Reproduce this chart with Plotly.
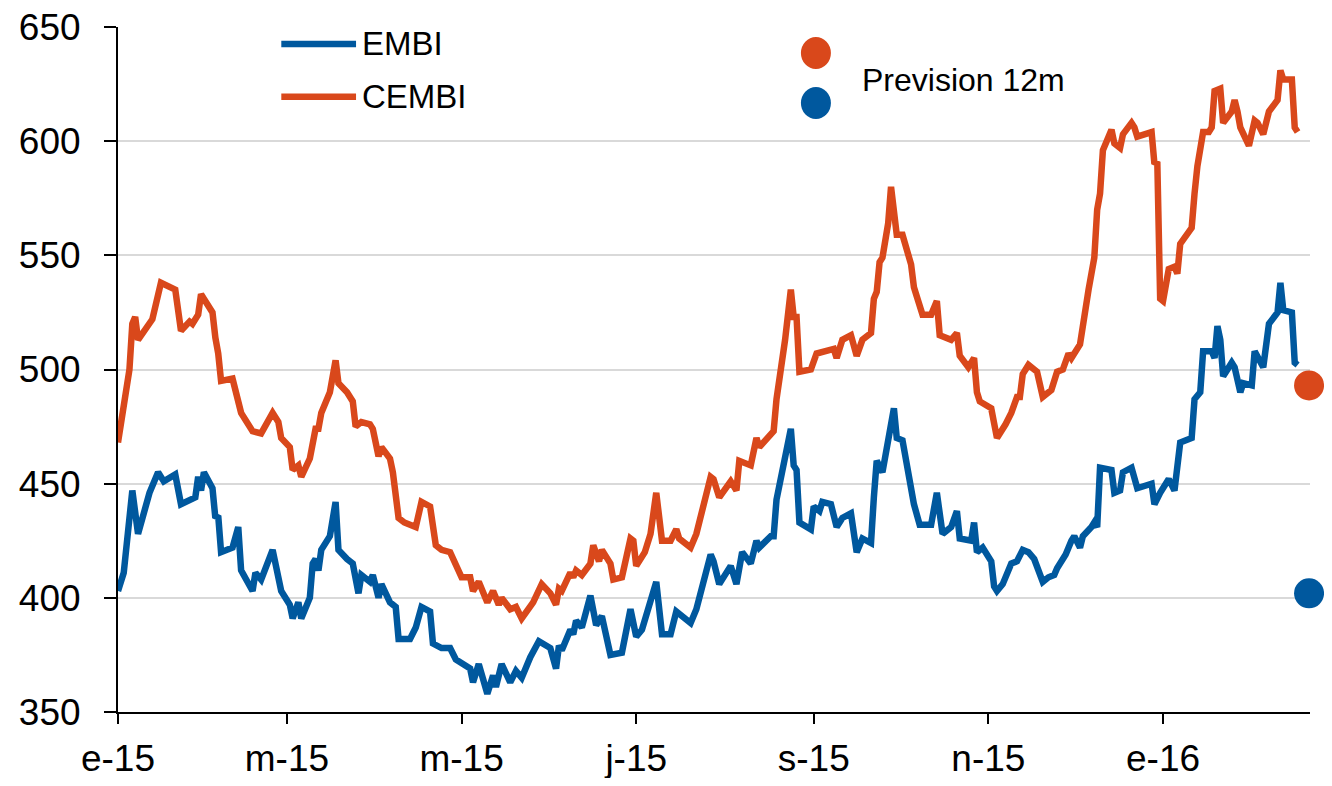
import plotly.graph_objects as go

# EMBI spread (blue)
embi_dates = [
    "2015-01-01", "2015-01-03", "2015-01-06", "2015-01-08", "2015-01-10", "2015-01-12",
    "2015-01-15", "2015-01-17", "2015-01-21", "2015-01-23", "2015-01-28", "2015-01-29",
    "2015-01-30", "2015-01-31", "2015-02-03", "2015-02-04", "2015-02-05", "2015-02-06",
    "2015-02-10", "2015-02-12", "2015-02-13", "2015-02-17", "2015-02-18", "2015-02-20",
    "2015-02-24", "2015-02-27", "2015-03-02", "2015-03-03", "2015-03-05", "2015-03-06",
    "2015-03-09", "2015-03-10", "2015-03-11", "2015-03-12", "2015-03-13", "2015-03-16",
    "2015-03-18", "2015-03-19", "2015-03-22", "2015-03-24", "2015-03-26", "2015-03-27",
    "2015-03-30", "2015-03-31", "2015-04-02", "2015-04-03", "2015-04-06", "2015-04-08",
    "2015-04-09", "2015-04-13", "2015-04-15", "2015-04-17", "2015-04-20", "2015-04-21",
    "2015-04-24", "2015-04-27", "2015-04-29", "2015-05-04", "2015-05-05", "2015-05-07",
    "2015-05-10", "2015-05-12", "2015-05-13", "2015-05-15", "2015-05-18", "2015-05-20",
    "2015-05-22", "2015-05-25", "2015-05-28", "2015-06-01", "2015-06-03", "2015-06-04",
    "2015-06-05", "2015-06-08", "2015-06-09", "2015-06-10", "2015-06-12", "2015-06-15",
    "2015-06-17", "2015-06-19", "2015-06-22", "2015-06-26", "2015-06-29", "2015-07-01",
    "2015-07-03", "2015-07-08", "2015-07-10", "2015-07-13", "2015-07-15", "2015-07-20",
    "2015-07-22", "2015-07-24", "2015-07-27", "2015-07-28", "2015-07-30", "2015-08-03",
    "2015-08-05", "2015-08-07", "2015-08-10", "2015-08-12", "2015-08-13", "2015-08-17",
    "2015-08-18", "2015-08-19", "2015-08-21", "2015-08-24", "2015-08-25", "2015-08-26",
    "2015-08-27", "2015-08-31", "2015-09-01", "2015-09-03", "2015-09-04", "2015-09-07",
    "2015-09-09", "2015-09-11", "2015-09-14", "2015-09-16", "2015-09-18", "2015-09-21",
    "2015-09-22", "2015-09-23", "2015-09-25", "2015-09-29", "2015-09-30", "2015-10-02",
    "2015-10-06", "2015-10-08", "2015-10-12", "2015-10-14", "2015-10-16", "2015-10-19",
    "2015-10-21", "2015-10-22", "2015-10-26", "2015-10-27", "2015-10-28", "2015-10-30",
    "2015-11-02", "2015-11-03", "2015-11-04", "2015-11-06", "2015-11-09", "2015-11-11",
    "2015-11-13", "2015-11-15", "2015-11-17", "2015-11-20", "2015-11-22", "2015-11-24",
    "2015-11-25", "2015-11-28", "2015-11-30", "2015-12-01", "2015-12-03", "2015-12-04",
    "2015-12-07", "2015-12-08", "2015-12-09", "2015-12-10", "2015-12-14", "2015-12-15",
    "2015-12-17", "2015-12-18", "2015-12-21", "2015-12-23", "2015-12-28", "2015-12-29",
    "2015-12-31", "2016-01-03", "2016-01-05", "2016-01-07", "2016-01-11", "2016-01-12",
    "2016-01-14", "2016-01-15", "2016-01-18", "2016-01-19", "2016-01-20", "2016-01-21",
    "2016-01-22", "2016-01-25", "2016-01-26", "2016-01-28", "2016-01-29", "2016-02-01",
    "2016-02-02", "2016-02-05", "2016-02-07", "2016-02-10", "2016-02-11", "2016-02-12",
    "2016-02-15", "2016-02-16", "2016-02-17",
]
embi_values = [
    403, 411, 447, 428, 437, 446,
    455, 451, 454, 441, 444, 453,
    447, 455, 448, 435, 436, 420,
    422, 431, 412, 403, 411, 408,
    421, 403, 397, 391, 398, 391,
    400, 415, 417, 412, 421, 427,
    442, 421, 417, 415, 402, 410,
    407, 410, 400, 406, 398, 396,
    382, 382, 387, 396, 394, 380,
    378, 378, 373, 369, 363, 371,
    358, 366, 361, 371, 363, 368,
    365, 374, 381, 378, 369, 379,
    377, 386, 384, 390, 387, 401,
    388, 392, 375, 376, 395, 383,
    386, 407, 384, 384, 394, 389,
    395, 404, 419, 416, 406, 414,
    406, 420, 415, 425, 422, 427,
    427, 443, 455, 474, 458, 456,
    433, 430, 440, 438, 442, 441,
    431, 435, 437, 420, 426, 424,
    444, 460, 455, 483, 470, 469,
    441, 432, 432, 446, 428, 431,
    438, 426, 425, 433, 420, 422,
    416, 405, 403, 406, 415, 416,
    421, 420, 417, 407, 409, 410,
    413, 419, 425, 427, 422, 427,
    431, 433, 431, 457, 456, 446,
    447, 455, 457, 448, 450, 441,
    446, 452, 447, 468, 470, 487,
    490, 508, 508, 505, 519, 513,
    497, 503, 501, 490, 494, 493,
    508, 501, 520, 525, 538, 526,
    525, 503, 502,
]

# CEMBI spread (orange)
cembi_dates = [
    "2015-01-01", "2015-01-05", "2015-01-06", "2015-01-07", "2015-01-08", "2015-01-13",
    "2015-01-16", "2015-01-21", "2015-01-23", "2015-01-26", "2015-01-27", "2015-01-29",
    "2015-01-30", "2015-02-03", "2015-02-04", "2015-02-05", "2015-02-06", "2015-02-10",
    "2015-02-13", "2015-02-17", "2015-02-20", "2015-02-24", "2015-02-26", "2015-02-27",
    "2015-03-02", "2015-03-03", "2015-03-05", "2015-03-06", "2015-03-09", "2015-03-10",
    "2015-03-11", "2015-03-12", "2015-03-13", "2015-03-16", "2015-03-18", "2015-03-19",
    "2015-03-22", "2015-03-24", "2015-03-25", "2015-03-27", "2015-03-30", "2015-03-31",
    "2015-04-02", "2015-04-03", "2015-04-06", "2015-04-07", "2015-04-09", "2015-04-11",
    "2015-04-15", "2015-04-17", "2015-04-20", "2015-04-22", "2015-04-24", "2015-04-27",
    "2015-04-29", "2015-05-01", "2015-05-04", "2015-05-05", "2015-05-07", "2015-05-10",
    "2015-05-12", "2015-05-14", "2015-05-15", "2015-05-18", "2015-05-20", "2015-05-22",
    "2015-05-26", "2015-05-29", "2015-06-01", "2015-06-03", "2015-06-04", "2015-06-05",
    "2015-06-08", "2015-06-09", "2015-06-10", "2015-06-12", "2015-06-15", "2015-06-16",
    "2015-06-18", "2015-06-19", "2015-06-22", "2015-06-23", "2015-06-26", "2015-06-29",
    "2015-06-30", "2015-07-01", "2015-07-04", "2015-07-06", "2015-07-08", "2015-07-10",
    "2015-07-13", "2015-07-15", "2015-07-16", "2015-07-20", "2015-07-22", "2015-07-24",
    "2015-07-27", "2015-07-28", "2015-07-30", "2015-08-03", "2015-08-05", "2015-08-06",
    "2015-08-10", "2015-08-12", "2015-08-13", "2015-08-18", "2015-08-19", "2015-08-22",
    "2015-08-24", "2015-08-25", "2015-08-26", "2015-08-27", "2015-08-31", "2015-09-02",
    "2015-09-08", "2015-09-09", "2015-09-11", "2015-09-14", "2015-09-16", "2015-09-18",
    "2015-09-21", "2015-09-22", "2015-09-23", "2015-09-24", "2015-09-25", "2015-09-27",
    "2015-09-28", "2015-09-30", "2015-10-02", "2015-10-05", "2015-10-06", "2015-10-07",
    "2015-10-09", "2015-10-12", "2015-10-14", "2015-10-15", "2015-10-19", "2015-10-21",
    "2015-10-22", "2015-10-25", "2015-10-27", "2015-10-28", "2015-10-29", "2015-11-02",
    "2015-11-04", "2015-11-07", "2015-11-09", "2015-11-11", "2015-11-12", "2015-11-13",
    "2015-11-15", "2015-11-18", "2015-11-20", "2015-11-23", "2015-11-25", "2015-11-27",
    "2015-11-29", "2015-11-30", "2015-12-02", "2015-12-03", "2015-12-06", "2015-12-08",
    "2015-12-09", "2015-12-10", "2015-12-11", "2015-12-14", "2015-12-15", "2015-12-17",
    "2015-12-18", "2015-12-21", "2015-12-22", "2015-12-23", "2015-12-28", "2015-12-29",
    "2015-12-30", "2015-12-31", "2016-01-01", "2016-01-03", "2016-01-05", "2016-01-06",
    "2016-01-07", "2016-01-08", "2016-01-11", "2016-01-12", "2016-01-13", "2016-01-15",
    "2016-01-17", "2016-01-18", "2016-01-19", "2016-01-21", "2016-01-22", "2016-01-25",
    "2016-01-26", "2016-01-27", "2016-01-28", "2016-01-31", "2016-02-02", "2016-02-03",
    "2016-02-05", "2016-02-07", "2016-02-10", "2016-02-11", "2016-02-12", "2016-02-15",
    "2016-02-16", "2016-02-17",
]
cembi_values = [
    468, 500, 520, 523, 513, 522,
    538, 535, 517, 521, 520, 524,
    533, 525, 514, 507, 495, 496,
    481, 473, 472, 481, 477, 470,
    466, 456, 458, 453, 461, 470,
    474, 474, 481, 490, 504, 494,
    490, 486, 475, 477, 476, 474,
    462, 466, 461, 455, 435, 433,
    431, 442, 440, 423, 421, 420,
    415, 409, 409, 403, 407, 398,
    403, 397, 400, 395, 396, 391,
    398, 406, 402, 397, 404, 403,
    411, 409, 412, 410, 415, 423,
    416, 421, 415, 408, 409, 426,
    425, 414, 420, 428, 446, 425,
    425, 430, 426, 422, 428, 439,
    453, 452, 444, 451, 447, 460,
    458, 470, 466, 473, 487, 513,
    535, 523, 523, 499, 500, 507,
    509, 505, 513, 515, 506, 513,
    516, 531, 534, 547, 549, 564,
    580, 559, 559, 546, 536, 532,
    524, 524, 530, 515, 513, 516,
    506, 501, 505, 490, 486, 483,
    470, 476, 481, 488, 488, 498,
    502, 499, 488, 491, 499, 500,
    507, 505, 510, 511, 535, 549,
    570, 577, 596, 605, 599, 597,
    603, 608, 606, 602, 604, 590,
    591, 531, 530, 544, 545, 542,
    555, 557, 562, 577, 589, 604,
    604, 606, 622, 623, 608, 613,
    618, 613, 606, 598, 609, 608,
    603, 613, 618, 631, 627, 627,
    606, 604,
]

# 12-month forecast
forecast_date = ["2016-02-21"]
embi_forecast = [402]
cembi_forecast = [493]

tick_dates = ["2015-01-01", "2015-03-01", "2015-05-01", "2015-07-01",
              "2015-09-01", "2015-11-01", "2016-01-01"]
tick_labels = ["e-15", "m-15", "m-15", "j-15", "s-15", "n-15", "e-16"]

BLUE = "#00589E"
ORANGE = "#D9481B"
FONT = "Liberation Sans, Arial, sans-serif"

fig = go.Figure()

fig.add_trace(go.Scatter(x=cembi_dates, y=cembi_values, mode="lines", name="CEMBI",
                         line=dict(color=ORANGE, width=6.5)))
fig.add_trace(go.Scatter(x=embi_dates, y=embi_values, mode="lines", name="EMBI",
                         line=dict(color=BLUE, width=6.5)))
fig.add_trace(go.Scatter(x=forecast_date, y=cembi_forecast, mode="markers",
                         marker=dict(color=ORANGE, size=30), cliponaxis=False))
fig.add_trace(go.Scatter(x=forecast_date, y=embi_forecast, mode="markers",
                         marker=dict(color=BLUE, size=30), cliponaxis=False))

# hand-made legend
for y, name, color in [(0.9752, "EMBI", BLUE), (0.898, "CEMBI", ORANGE)]:
    fig.add_shape(type="line", xref="paper", yref="paper", x0=0.137, x1=0.1997,
                  y0=y, y1=y, line=dict(color=color, width=6.5))
    fig.add_annotation(xref="paper", yref="paper", x=0.203, y=y, text=name,
                       showarrow=False, xanchor="left", yanchor="middle",
                       font=dict(size=33, color="black", family=FONT))

for y, color in [(0.962, ORANGE), (0.8891, BLUE)]:
    fig.add_shape(type="circle", xref="paper", yref="paper", xsizemode="pixel",
                  ysizemode="pixel", xanchor=0.5855, yanchor=y, x0=-15, x1=15,
                  y0=-16, y1=16, fillcolor=color, line=dict(width=0))
fig.add_annotation(xref="paper", yref="paper", x=0.6225, y=0.9226, text="Prevision 12m",
                   showarrow=False, xanchor="left", yanchor="middle",
                   font=dict(size=32, color="black", family=FONT))

# the page body adds an 8 px offset, so the figure is sized to fit inside it
fig.update_layout(
    width=1316, height=770,
    margin=dict(l=110, r=14, t=19, b=66),
    plot_bgcolor="white", paper_bgcolor="white",
    showlegend=False,
    font=dict(family=FONT, color="black"),
    xaxis=dict(
        type="date", range=["2015-01-01", "2016-02-21 08:00"],
        tickvals=tick_dates, ticktext=tick_labels, automargin=False,
        showgrid=False, showline=True, linecolor="black", linewidth=2,
        ticks="outside", ticklen=10, tickwidth=2, tickcolor="black",
        tickfont=dict(size=37), ticklabelstandoff=3, ticklabeloverflow="allow",
    ),
    yaxis=dict(
        range=[350, 650], dtick=50, automargin=False,
        showgrid=True, gridcolor="#D9D9D9", gridwidth=2, zeroline=False,
        showline=True, linecolor="black", linewidth=2,
        ticks="outside", ticklen=12, tickwidth=2, tickcolor="black",
        tickfont=dict(size=37), ticklabelstandoff=16, ticklabeloverflow="allow",
    ),
)

fig.write_html("out.html")
